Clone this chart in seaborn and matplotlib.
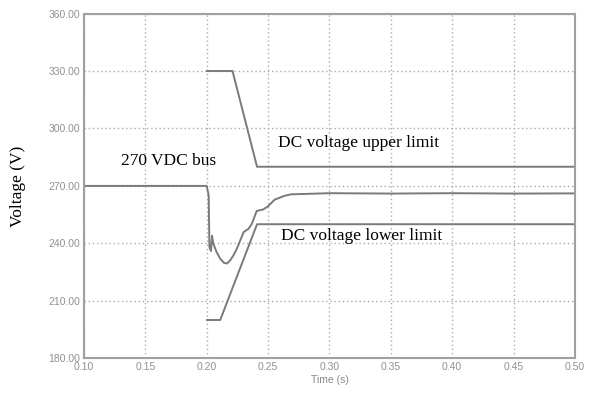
import numpy as np
import pandas as pd
import matplotlib
matplotlib.use("Agg")
import matplotlib.pyplot as plt
import seaborn as sns

# values
bus_t = [0.10, 0.2000, 0.2016, 0.2022, 0.2035, 0.2043, 0.2053, 0.2080, 0.2110,
         0.2141, 0.2165, 0.2190, 0.2220, 0.2247, 0.2274, 0.2301, 0.2340,
         0.2367, 0.2407, 0.2460, 0.2500, 0.2553, 0.2633, 0.2686, 0.2793,
         0.30, 0.35, 0.40, 0.45, 0.50]
bus_v = [270, 270, 265, 238, 236, 244, 240, 235.5, 232,
         229.8, 229.5, 231, 234, 237.5, 241.7, 245.9, 247.6,
         250.1, 256.9, 257.7, 259.4, 262.8, 264.8, 265.6, 265.8,
         266.2, 266.0, 266.2, 266.0, 266.1]

upper_t = [0.20, 0.221, 0.241, 0.50]
upper_v = [330, 330, 280, 280]

lower_t = [0.20, 0.211, 0.241, 0.50]
lower_v = [200, 200, 250, 250]

x_ticks = [0.10, 0.15, 0.20, 0.25, 0.30, 0.35, 0.40, 0.45, 0.50]
y_ticks = [180, 210, 240, 270, 300, 330, 360]

sns.set_style("white")
plt.rcParams['font.family'] = ['Liberation Sans', 'DejaVu Sans']

fig = plt.figure(figsize=(5.97, 3.94), dpi=100)
ax = fig.add_axes([0.1407, 0.0906, 0.963 - 0.1407, 0.9657 - 0.0906])

line_color = "#7a7a7a"
for t, v in [(bus_t, bus_v), (upper_t, upper_v), (lower_t, lower_v)]:
    sns.lineplot(x=t, y=v, ax=ax, color=line_color, linewidth=1.4,
                 estimator=None, sort=False)

ax.set_xlim(0.10, 0.50)
ax.set_ylim(180, 360)
ax.set_xticks(x_ticks, labels=[f"{t:.2f}" for t in x_ticks])
ax.set_yticks(y_ticks, labels=[f"{v:.2f}" for v in y_ticks])
ax.tick_params(length=0, labelsize=7.5, labelcolor="#909090", pad=3)
ax.grid(True, linestyle=(0, (1, 2)), color="#aaaaaa", linewidth=1)
for s in ax.spines.values():
    s.set_color("#a0a0a0")
    s.set_linewidth(1.5)

ax.set_xlabel("Time (s)", fontsize=7.5, color="#888888", labelpad=2)
ax.set_ylabel("Voltage (V)", fontsize=12.5, family="Liberation Serif",
              color="black", labelpad=16)

serif = dict(fontsize=12.5, family="Liberation Serif", color="black",
             va="center", ha="left")
ax.text(0.1303, 283, "270 VDC bus", **serif)
ax.text(0.2577, 292.6, "DC voltage upper limit", **serif)
ax.text(0.2603, 244, "DC voltage lower limit", **serif)

fig.savefig("out.png", dpi=100)
